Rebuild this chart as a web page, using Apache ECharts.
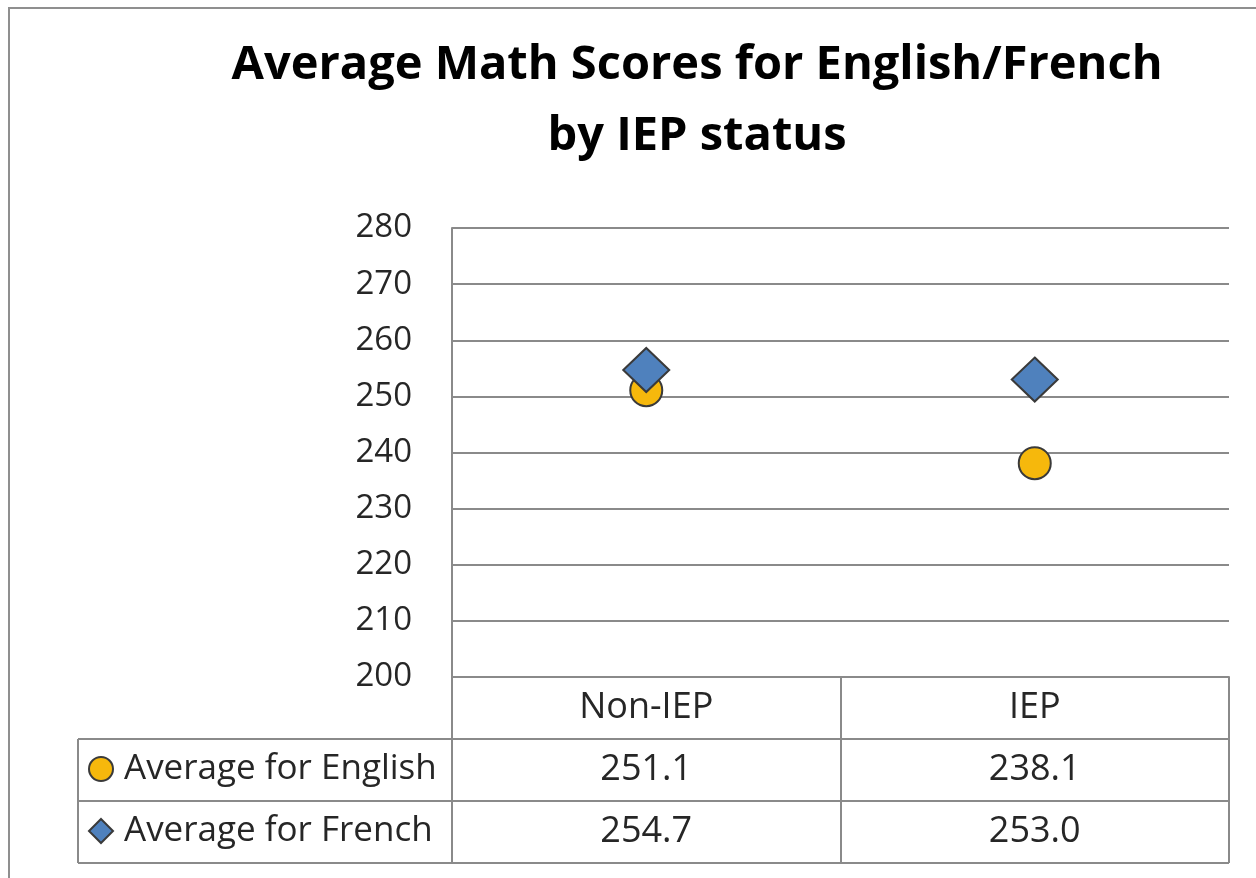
<!DOCTYPE html>
<html>
<head>
<meta charset="utf-8">
<script src="https://cdn.jsdelivr.net/npm/echarts@6/dist/echarts.min.js"></script>
<style>
  html, body { margin: 0; padding: 0; background: #fff; }
  #main { width: 1256px; height: 878px; }
</style>
</head>
<body>
<div id="main"></div>
<script>
const myChart = echarts.init(document.getElementById('main'));

const categories = ['Non-IEP', 'IEP'];
const englishScores = [251.1, 238.1];
const frenchScores = [254.7, 253.0];
const seriesNames = ['Average for English', 'Average for French'];
const yTicks = { min: 200, max: 280, interval: 10 };

const font = 'Open Sans';
const rowH = 62; // 数据表行高

let option = {
    backgroundColor: '#fff',
    title: {
        text: 'Average Math Scores for English/French\nby IEP status',
        left: 692,
        top: 25,
        textAlign: 'center',
        textStyle: {
            fontFamily: font,
            fontSize: 47,
            fontWeight: 'bold',
            color: '#000',
            lineHeight: 71
        }
    },
    legend: {
        orient: 'vertical',
        left: 88,
        top: 738,
        padding: 0,
        itemGap: 0,
        itemWidth: 24,
        itemHeight: 24,
        selectedMode: false,
        data: [
            { name: seriesNames[0], icon: 'circle' },
            { name: seriesNames[1], icon: 'diamond' }
        ],
        textStyle: {
            fontFamily: font,
            fontSize: 35,
            color: '#262626',
            lineHeight: rowH,
            padding: [0, 0, 0, 6]
        }
    },
    grid: {
        left: 452,
        top: 228,
        right: 27,
        bottom: 201,
        containLabel: false
    },
    xAxis: {
        type: 'category',
        data: categories,
        boundaryGap: true,
        axisLine: { show: true, lineStyle: { color: '#8a8a8a', width: 2 } },
        axisTick: { show: true, length: rowH * 3, lineStyle: { color: '#8a8a8a', width: 2 } },
        axisLabel: {
            margin: 0,
            interval: 0,
            fontFamily: font,
            fontSize: 36,
            color: '#262626',
            lineHeight: rowH,
            formatter: function (value, idx) {
                return value + '\n' + englishScores[idx].toFixed(1) + '\n' + frenchScores[idx].toFixed(1);
            }
        }
    },
    yAxis: {
        type: 'value',
        min: yTicks.min,
        max: yTicks.max,
        interval: yTicks.interval,
        axisLine: { show: true, lineStyle: { color: '#8a8a8a', width: 2 } },
        axisTick: { show: false },
        splitLine: { lineStyle: { color: '#8a8a8a', width: 2 } },
        axisLabel: {
            margin: 40,
            fontFamily: font,
            fontSize: 33,
            color: '#262626'
        }
    },
    series: [
        {
            name: seriesNames[0],
            type: 'scatter',
            symbol: 'circle',
            symbolSize: 32,
            itemStyle: { color: '#F6B80C', borderColor: '#3a3a3a', borderWidth: 2, opacity: 1 },
            data: englishScores,
            z: 3
        },
        {
            name: seriesNames[1],
            type: 'scatter',
            symbol: 'diamond',
            symbolSize: [46, 44],
            itemStyle: { color: '#4F81BD', borderColor: '#3a3a3a', borderWidth: 2, opacity: 1 },
            data: frenchScores,
            z: 4
        }
    ]
};

myChart.setOption(option);

// 数据表的横线和外框
function drawTable() {
    const y0 = myChart.convertToPixel({ yAxisIndex: 0 }, yTicks.min);
    const c0 = myChart.convertToPixel({ xAxisIndex: 0 }, categories[0]);
    const c1 = myChart.convertToPixel({ xAxisIndex: 0 }, categories[categories.length - 1]);
    const band = categories.length > 1 ? (c1 - c0) / (categories.length - 1) : 0;
    const xl = 78;
    const xr = c1 + band / 2;
    const lineStyle = { stroke: '#8a8a8a', lineWidth: 2 };
    const els = [];
    for (let i = 1; i <= 3; i++) {
        els.push({ type: 'line', shape: { x1: xl, y1: y0 + rowH * i, x2: xr, y2: y0 + rowH * i }, style: lineStyle });
    }
    els.push({ type: 'line', shape: { x1: xl, y1: y0 + rowH, x2: xl, y2: y0 + rowH * 3 }, style: lineStyle });
    els.push({ type: 'rect', shape: { x: 9, y: 8, width: 1270, height: 900 }, style: { fill: null, stroke: '#8f8f8f', lineWidth: 2 } });
    myChart.setOption({ graphic: { elements: els } });
}
drawTable();
</script>
</body>
</html>
